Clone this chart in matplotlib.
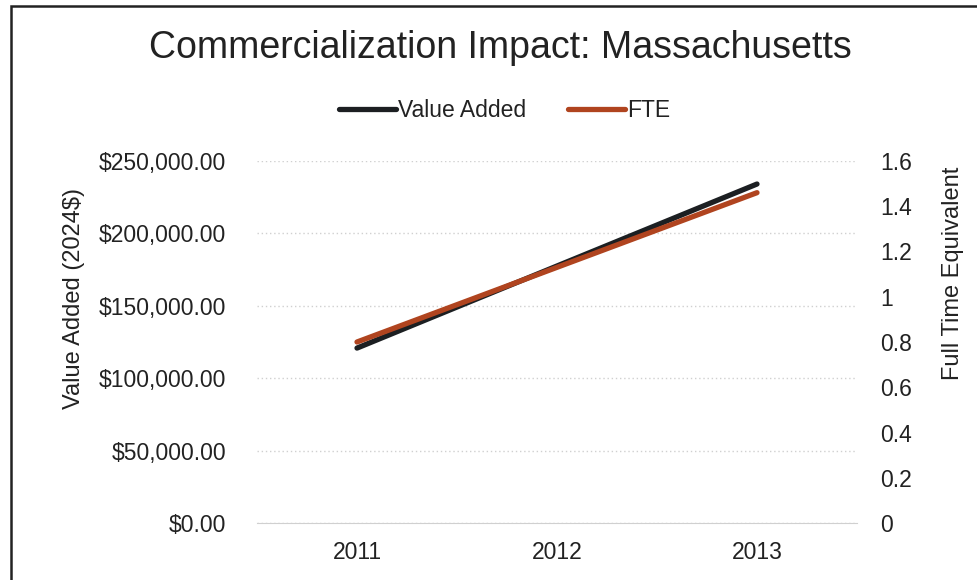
import matplotlib
matplotlib.use("Agg")
import matplotlib.pyplot as plt
from matplotlib.patches import Rectangle
from matplotlib.ticker import FuncFormatter

plt.rcParams['font.family'] = ['Liberation Sans', 'DejaVu Sans']

# data
years = ['2011', '2012', '2013']
value_added = [120800, 177500, 234100]
fte = [0.80, 1.13, 1.46]

fig = plt.figure(figsize=(9.78, 5.8), dpi=100)
ax = fig.add_axes([257 / 978, 57 / 580, 600 / 978, 362 / 580])
ax2 = ax.twinx()

x = range(len(years))
l1, = ax.plot(x, value_added, color='#1c1f22', lw=3.8, solid_capstyle='round', label='Value Added')
l2, = ax2.plot(x, fte, color='#b0441f', lw=3.8, solid_capstyle='round', label='FTE')

ax.set_xlim(-0.5, 2.5)
ax.set_ylim(0, 250000)
ax.set_yticks(range(0, 250001, 50000))
ax.yaxis.set_major_formatter(FuncFormatter(lambda v, p: '${:,.2f}'.format(v)))
ax2.set_ylim(0, 1.6)
ax2.set_yticks([0, 0.2, 0.4, 0.6, 0.8, 1, 1.2, 1.4, 1.6])
ax2.set_yticklabels(['0', '0.2', '0.4', '0.6', '0.8', '1', '1.2', '1.4', '1.6'])
ax.set_xticks(list(x))
ax.set_xticklabels(years)

ax.grid(axis='y', color='#d0d0d0', linestyle=(0, (1, 2)), lw=1)
ax.set_axisbelow(True)
for a in (ax, ax2):
    for s in ('top', 'left', 'right'):
        a.spines[s].set_visible(False)
    a.tick_params(length=0, labelsize=16.5, colors='#222222')
ax.spines['bottom'].set_color('#d0d0d0')
ax2.spines['bottom'].set_visible(False)
ax.tick_params(axis='x', pad=13)
ax.tick_params(axis='y', pad=22)
ax2.tick_params(axis='y', pad=17)

ax.set_ylabel('Value Added (2024$)', fontsize=17, color='#222222', labelpad=10)
ax2.set_ylabel('Full Time Equivalent', fontsize=17, color='#222222', labelpad=21)
ax.yaxis.label.set_y(0.62)
ax2.yaxis.label.set_y(0.69)

fig.text(0.512, 0.917, 'Commercialization Impact: Massachusetts', ha='center', va='center',
         fontsize=27, color='#222222')
fig.legend(handles=[l1, l2], loc='center', bbox_to_anchor=(0.516, 0.81), ncol=2, frameon=False,
           fontsize=16.5, handlelength=2.5, handletextpad=0.1, columnspacing=1.8,
           labelcolor='#222222')

fig.add_artist(Rectangle((11 / 978, -0.1), 1.2, 1.1 - 6 / 580, transform=fig.transFigure,
                         fill=False, edgecolor='#222222', lw=1.8, clip_on=False))

fig.savefig('out.png', dpi=100)
